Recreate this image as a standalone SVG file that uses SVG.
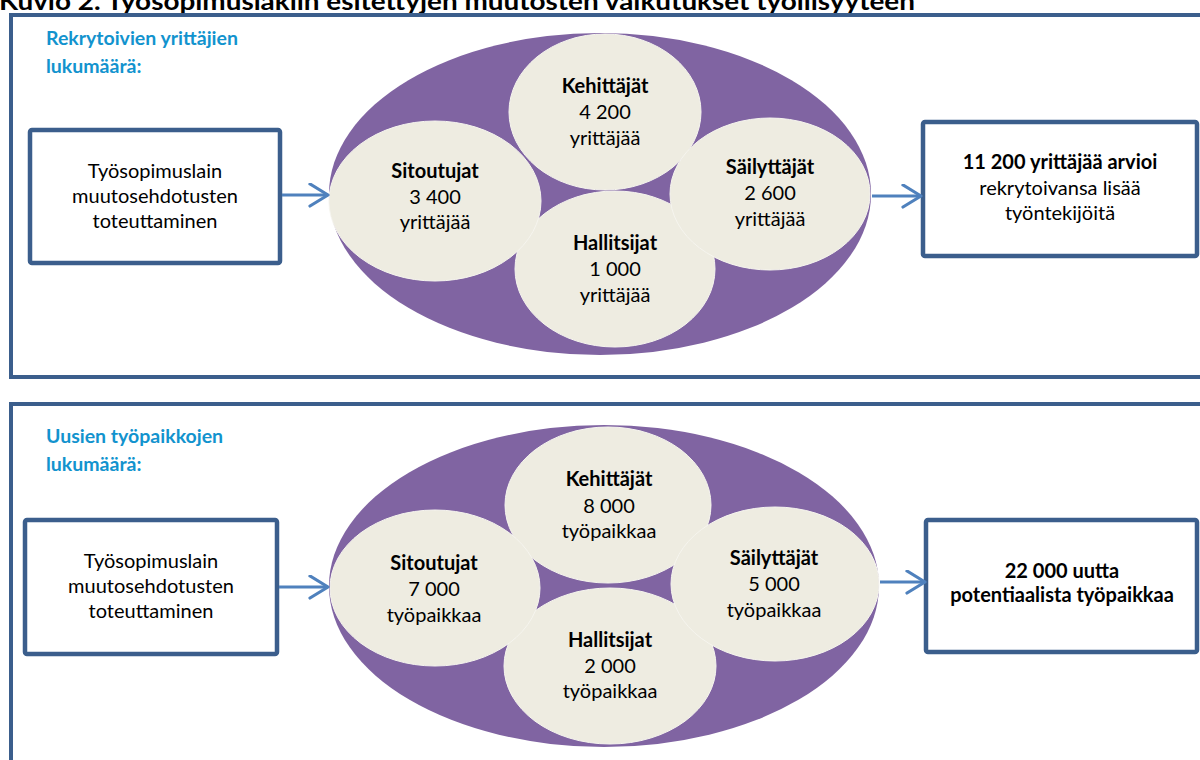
<svg xmlns="http://www.w3.org/2000/svg" width="1200" height="760" viewBox="0 0 1200 760">
<defs>
<marker id="chev" markerUnits="userSpaceOnUse" markerWidth="24" markerHeight="28" refX="20" refY="12" orient="auto">
<path d="M2,1 L20,12 L2,23" fill="none" stroke="#4F81BD" stroke-width="3.2" stroke-linecap="round" stroke-linejoin="round"/>
</marker>
</defs>
<style>
text{font-family:Lato,"Liberation Sans",sans-serif;fill:#000;}
.title{font-size:24px;font-weight:bold;}
.lab{font-size:19.5px;font-weight:bold;fill:#1293CE;}
.frame{fill:none;stroke:#3B5E8C;stroke-width:4;}
.box{fill:#fff;stroke:#3B5E8C;stroke-width:4.5;}
.big{fill:#8064A2;}
.seg{fill:#EEECE1;stroke:#F6F5EF;stroke-width:1;}
.t{font-size:20px;text-anchor:middle;}
.b{font-size:20px;font-weight:bold;text-anchor:middle;}
.conn{stroke:#4F81BD;stroke-width:3.2;fill:none;marker-end:url(#chev);}
</style>
<rect width="1200" height="760" fill="#fff"/>
<text class="title" x="-1" y="10" textLength="916" lengthAdjust="spacingAndGlyphs">Kuvio 2. Työsopimuslakiin esitettyjen muutosten vaikutukset työllisyyteen</text>

<g id="frame-top">
<rect class="frame" x="11" y="15" width="1200" height="362"/>
<text class="lab" x="46" y="45">Rekrytoivien yrittäjien</text>
<text class="lab" x="46" y="73">lukumäärä:</text>
</g>
<g id="frame-bottom">
<rect class="frame" x="11" y="404" width="1200" height="420"/>
<text class="lab" x="46" y="443">Uusien työpaikkojen</text>
<text class="lab" x="46" y="471">lukumäärä:</text>
</g>

<g id="input-top">
<rect class="box" x="30" y="130" width="250" height="133" rx="2"/>
<text class="t" x="155" y="178">Työsopimuslain</text>
<text class="t" x="155" y="203">muutosehdotusten</text>
<text class="t" x="155" y="228">toteuttaminen</text>
</g>
<g id="groups-top">
<ellipse class="big" cx="600" cy="194" rx="271" ry="161"/>
<ellipse class="seg" cx="605" cy="112" rx="96" ry="78"/>
<ellipse class="seg" cx="615" cy="269" rx="100" ry="78"/>
<ellipse class="seg" cx="435" cy="201" rx="106" ry="80"/>
<ellipse class="seg" cx="770" cy="194" rx="100" ry="76"/>
<text class="b" x="605" y="93">Kehittäjät</text>
<text class="t" x="605" y="119">4 200</text>
<text class="t" x="605" y="145">yrittäjää</text>
<text class="b" x="435" y="178">Sitoutujat</text>
<text class="t" x="435" y="204">3 400</text>
<text class="t" x="435" y="229">yrittäjää</text>
<text class="b" x="770" y="174">Säilyttäjät</text>
<text class="t" x="770" y="200">2 600</text>
<text class="t" x="770" y="226">yrittäjää</text>
<text class="b" x="615" y="250">Hallitsijat</text>
<text class="t" x="615" y="276">1 000</text>
<text class="t" x="615" y="302">yrittäjää</text>
</g>
<g id="result-top">
<rect class="box" x="923" y="122" width="274" height="134" rx="2"/>
<text class="b" x="1060" y="169">11 200 yrittäjää arvioi</text>
<text class="t" x="1060" y="195">rekrytoivansa lisää</text>
<text class="t" x="1060" y="220">työntekijöitä</text>
</g>

<g id="input-bottom">
<rect class="box" x="25" y="520" width="252" height="134" rx="2"/>
<text class="t" x="151" y="568">Työsopimuslain</text>
<text class="t" x="151" y="593">muutosehdotusten</text>
<text class="t" x="151" y="618">toteuttaminen</text>
</g>
<g id="groups-bottom">
<ellipse class="big" cx="604" cy="586" rx="275" ry="161"/>
<ellipse class="seg" cx="608" cy="505" rx="103" ry="78"/>
<ellipse class="seg" cx="610" cy="666" rx="106" ry="78"/>
<ellipse class="seg" cx="435" cy="588" rx="105" ry="78"/>
<ellipse class="seg" cx="775" cy="584" rx="104" ry="77"/>
<text class="b" x="609" y="486">Kehittäjät</text>
<text class="t" x="609" y="513">8 000</text>
<text class="t" x="609" y="538">työpaikkaa</text>
<text class="b" x="434" y="570">Sitoutujat</text>
<text class="t" x="434" y="596">7 000</text>
<text class="t" x="434" y="622">työpaikkaa</text>
<text class="b" x="774" y="565">Säilyttäjät</text>
<text class="t" x="774" y="591">5 000</text>
<text class="t" x="774" y="617">työpaikkaa</text>
<text class="b" x="610" y="647">Hallitsijat</text>
<text class="t" x="610" y="673">2 000</text>
<text class="t" x="610" y="698">työpaikkaa</text>
</g>
<g id="result-bottom">
<rect class="box" x="926" y="520" width="271" height="132" rx="2"/>
<text class="b" x="1062" y="578">22 000 uutta</text>
<text class="b" x="1062" y="602">potentiaalista työpaikkaa</text>
</g>

<g id="connectors">
<line class="conn" x1="282" y1="195" x2="328" y2="195"/>
<line class="conn" x1="872" y1="196" x2="921" y2="196"/>
<line class="conn" x1="279" y1="587" x2="328" y2="587"/>
<line class="conn" x1="880" y1="582" x2="925" y2="582"/>
</g>
</svg>
